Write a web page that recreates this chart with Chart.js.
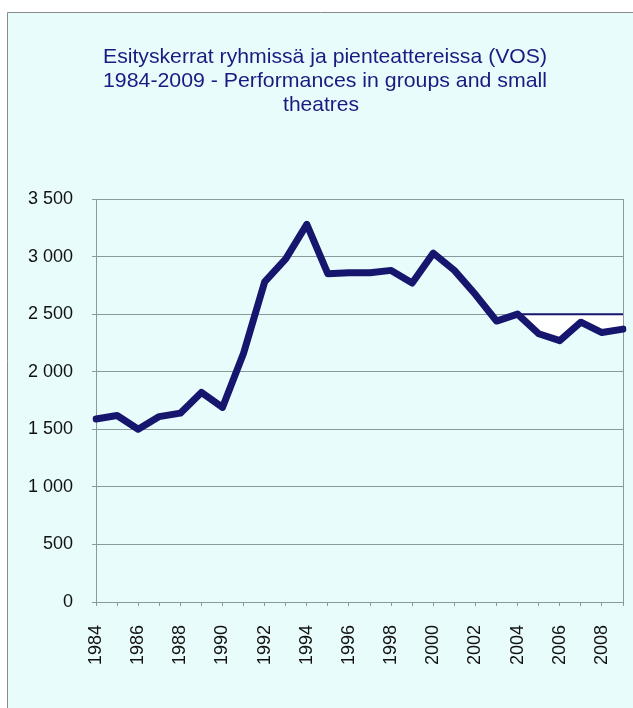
<!DOCTYPE html>
<html>
<head>
<meta charset="utf-8">
<script src="https://cdn.jsdelivr.net/npm/chart.js@4"></script>
<style>
  html, body { margin: 0; padding: 0; background: #ffffff; }
  #wrap { width: 633px; height: 708px; position: relative; }
</style>
</head>
<body>
<div id="wrap"><canvas id="c" width="633" height="708"></canvas></div>
<script>
const titleLines = [
  "Esityskerrat ryhmissä ja pienteattereissa (VOS)",
  "1984-2009 - Performances in groups and small",
  "theatres"
];
const years = ["1984","1985","1986","1987","1988","1989","1990","1991","1992","1993","1994","1995","1996","1997","1998","1999","2000","2001","2002","2003","2004","2005","2006","2007","2008","2009"];
const performances = [1590,1620,1500,1610,1640,1820,1690,2160,2780,2980,3280,2850,2860,2860,2880,2770,3030,2880,2670,2440,2500,2330,2270,2430,2340,2370];
const levelYears = ["2004","2005","2006","2007","2008","2009"];
const levelValues = [2500,2500,2500,2500,2500,2500];
const yTicks = [0,500,1000,1500,2000,2500,3000,3500];

function fmt(v) { return String(v).replace(/\B(?=(\d{3})+(?!\d))/g, ' '); }

const bgPlugin = {
  id: 'bg',
  beforeDraw(chart) {
    const ctx = chart.ctx;
    ctx.save();
    ctx.fillStyle = '#ffffff';
    ctx.fillRect(0, 0, chart.width, chart.height);
    ctx.fillStyle = '#e9fcfc';
    ctx.fillRect(7, 12, chart.width - 7, chart.height - 12);
    ctx.strokeStyle = '#8a8a8a';
    ctx.lineWidth = 1;
    ctx.beginPath();
    ctx.moveTo(7.5, chart.height);
    ctx.lineTo(7.5, 12.5);
    ctx.lineTo(chart.width, 12.5);
    ctx.stroke();
    ctx.restore();
  },
  beforeDatasetsDraw(chart) {
    const ctx = chart.ctx, a = chart.chartArea;
    ctx.save();
    ctx.strokeStyle = '#8a9a9a';
    ctx.lineWidth = 1;
    ctx.beginPath();
    ctx.moveTo(Math.round(a.right) + 0.5, a.top);
    ctx.lineTo(Math.round(a.right) + 0.5, a.bottom);
    ctx.stroke();
    ctx.restore();
  },
  afterDraw(chart) {
    const ctx = chart.ctx;
    ctx.save();
    ctx.fillStyle = '#1a1a80';
    ctx.font = '21px "Liberation Sans", Arial, sans-serif';
    ctx.textAlign = 'center';
    ctx.textBaseline = 'alphabetic';
    const base = [63, 87, 111];
    const centers = [325, 325, 321];
    const widths = [444, 444, null];
    titleLines.forEach((t, i) => {
      const w = ctx.measureText(t).width;
      const sx = widths[i] ? widths[i] / w : 1;
      ctx.save();
      ctx.translate(centers[i], base[i]);
      ctx.scale(sx, 1);
      ctx.fillText(t, 0, 0);
      ctx.restore();
    });
    ctx.restore();
  }
};

new Chart(document.getElementById('c'), {
  type: 'line',
  data: {
    labels: years,
    datasets: [
      {
        data: performances,
        borderColor: '#16166e',
        borderWidth: 7,
        borderJoinStyle: 'round',
        borderCapStyle: 'round',
        pointRadius: 0,
        tension: 0,
        fill: false,
        order: 1
      },
      {
        data: levelYears.map((y, i) => ({ x: y, y: levelValues[i] })),
        borderColor: '#16166e',
        borderWidth: 2,
        pointRadius: 0,
        tension: 0,
        fill: { target: 0 },
        backgroundColor: '#ffffff',
        order: 2
      }
    ]
  },
  options: {
    responsive: false,
    animation: false,
    devicePixelRatio: 1,
    layout: { padding: { left: 0, right: 10, top: 199, bottom: 0 } },
    plugins: { legend: { display: false }, title: { display: false }, tooltip: { enabled: false } },
    scales: {
      x: {
        offset: false,
        grid: { drawOnChartArea: false, drawTicks: true, tickLength: 4, color: '#8a9a9a' },
        border: { display: true, color: '#8a9a9a' },
        ticks: {
          autoSkip: false,
          minRotation: 90,
          maxRotation: 90,
          padding: 19,
          color: '#111111',
          font: { family: '"Liberation Sans", Arial, sans-serif', size: 18 },
          callback(v, i) { return i % 2 === 0 ? years[i] : ''; }
        },
        afterFit(s) { s.height = 106; s.paddingLeft = 0; s.paddingRight = 0; }
      },
      y: {
        min: 0,
        max: 3500,
        afterBuildTicks(s) { s.ticks = yTicks.map(v => ({ value: v })); },
        grid: { color: '#8a9a9a', tickLength: 4 },
        border: { display: true, color: '#8a9a9a' },
        ticks: {
          padding: 19,
          color: '#111111',
          font: { family: '"Liberation Sans", Arial, sans-serif', size: 18 },
          callback(v) { return fmt(v); }
        },
        afterFit(s) { s.width = 96; s.paddingTop = 0; s.paddingBottom = 0; }
      }
    }
  },
  plugins: [bgPlugin]
});
</script>
</body>
</html>
